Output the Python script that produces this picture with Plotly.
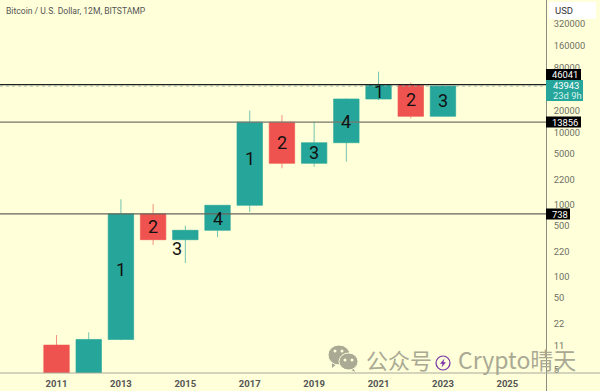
import math
import plotly.graph_objects as go

years = [2011, 2012, 2013, 2014, 2015, 2016, 2017, 2018, 2019, 2020, 2021, 2022, 2023]
opens = [11.1, 4.3, 13.3, 738, 323, 436, 970, 13856, 3715, 7180, 29040, 46041, 16700]
highs = [15.3, 16.7, 1175, 1010, 506, 980, 20000, 17400, 14060, 29400, 69600, 48950, 44500]
lows = [4.0, 4.0, 13.0, 273, 153, 352, 783, 3170, 3335, 3920, 28100, 15670, 16500]
closes = [4.3, 13.3, 738, 323, 436, 970, 13856, 3715, 7180, 29040, 46041, 16700, 43943]

label_years = [2013, 2014, 2014.75, 2016, 2017, 2018, 2019, 2020, 2021, 2022, 2023]
label_values = [126, 490, 245, 640, 4266, 7280, 5285, 14060, 36700, 29040, 27540]
label_texts = ["1", "2", "3", "4", "1", "2", "3", "4", "1", "2", "3"]

level_values = [46041, 13856, 738]
level_colors = ["#1f1f1f", "#77776c", "#66665c"]
current_price = 43943

y_ticks = [320000, 160000, 80000, 20000, 10000, 5000, 2200, 1000, 500, 220, 100, 50, 22, 11, 5]
x_ticks = [2011, 2013, 2015, 2017, 2019, 2021, 2023, 2025]

BG = "#FFFFD9"
TEAL = "#26A69A"
RED = "#EF5350"
XMIN, XMAX = 2009.245, 2026.2
W, H = 546, 373


def px(x):
    return x / W


def py(y):
    return 1 - y / H


fig = go.Figure()
fig.add_trace(go.Candlestick(
    x=years, open=opens, high=highs, low=lows, close=closes,
    increasing=dict(line=dict(color="rgba(38,166,154,0.65)", width=1), fillcolor=TEAL),
    decreasing=dict(line=dict(color="rgba(239,83,80,0.65)", width=1), fillcolor=RED),
    whiskerwidth=0, showlegend=False, hoverinfo="skip",
))
for value, color in zip(level_values, level_colors):
    fig.add_trace(go.Scatter(x=[XMIN, XMAX], y=[value, value], mode="lines",
                             line=dict(color=color, width=1.2), showlegend=False, hoverinfo="skip"))
fig.add_trace(go.Scatter(x=[XMIN, XMAX], y=[current_price, current_price], mode="lines",
                         line=dict(color="#8fa89a", width=0.8, dash="dot"), showlegend=False, hoverinfo="skip"))

ann = []
for x, v, t in zip(label_years, label_values, label_texts):
    ann.append(dict(x=x, y=math.log10(v), xref="x", yref="y", text=t, showarrow=False,
                    font=dict(family="Roboto", size=18, color="#111111"),
                    xanchor="center", yanchor="middle"))


def tag(text, x0, x1, y0, y1, fill, color="#ffffff", size=9.4):
    ann.append(dict(x=px(x0 + 5), y=py((y0 + y1) / 2), xref="paper", yref="paper", text=text,
                    showarrow=False, xanchor="left", yanchor="middle", align="left", borderpad=0,
                    font=dict(family="Roboto", size=size, color=color)))
    return dict(type="rect", xref="paper", yref="paper", x0=px(x0), x1=px(x1), y0=py(y1), y1=py(y0),
                fillcolor=fill, line=dict(width=0), layer="above")


shapes = [
    dict(type="line", xref="paper", yref="paper", x0=px(546.5), x1=px(546.5), y0=py(391), y1=py(0),
         line=dict(color="#8c8c80", width=1)),
    dict(type="line", xref="paper", yref="paper", x0=0, x1=px(600), y0=py(373), y1=py(373),
         line=dict(color="#a9a99b", width=1)),
]
shapes.append(tag("46041", 546, 581, 69, 80, "#000000"))
shapes.append(tag("13856", 546, 581, 116.5, 127.5, "#000000"))
shapes.append(tag("738", 546, 570, 208.5, 219.5, "#000000"))
shapes.append(dict(type="rect", xref="paper", yref="paper", x0=px(546), x1=px(583), y0=py(101), y1=py(80),
                   fillcolor=TEAL, line=dict(width=0), layer="above"))
ann.append(dict(x=px(551), y=py(86), xref="paper", yref="paper", text=str(current_price), showarrow=False,
                xanchor="left", yanchor="middle", font=dict(family="Roboto", size=9.4, color="#ffffff")))
ann.append(dict(x=px(551), y=py(96), xref="paper", yref="paper", text="23d 9h", showarrow=False,
                xanchor="left", yanchor="middle", font=dict(family="Roboto", size=9.4, color="#d5f2ee")))
shapes.append(dict(type="rect", xref="paper", yref="paper", x0=px(549), x1=px(596), y0=py(19), y1=py(2),
                   fillcolor="#ffffff", line=dict(width=0), layer="above"))
ann.append(dict(x=px(553), y=py(10.5), xref="paper", yref="paper", text="USD", showarrow=False,
                xanchor="left", yanchor="middle", font=dict(family="Roboto", size=9.5, color="#333333")))
ann.append(dict(x=px(4), y=py(11), xref="paper", yref="paper", text="Bitcoin / U.S. Dollar, 12M, BITSTAMP",
                showarrow=False, xanchor="left", yanchor="middle",
                font=dict(family="Roboto", size=8.6, color="#555555")))

# watermark
WM = "#A9A994"
PURPLE = "#7B2FA8"


def poly(points, fill):
    path = "M " + " L ".join(f"{px(x):.5f},{py(y):.5f}" for x, y in points) + " Z"
    return dict(type="path", xref="paper", yref="paper", path=path, fillcolor=fill, line=dict(width=0))


shapes.append(poly([(332, 361), (332, 368), (338, 363)], WM))
shapes.append(poly([(353, 367), (355, 372), (349, 369)], WM))
for x0, x1, y0, y1 in [(328, 350, 345, 365), (339, 358, 353, 370)]:
    shapes.append(dict(type="circle", xref="paper", yref="paper", x0=px(x0), x1=px(x1), y0=py(y1), y1=py(y0),
                       fillcolor=WM, line=dict(color=BG, width=1)))
for cx, cy in [(335, 351), (342, 351), (345, 360), (352, 360)]:
    shapes.append(dict(type="circle", xref="paper", yref="paper", x0=px(cx - 1.5), x1=px(cx + 1.5),
                       y0=py(cy + 1.5), y1=py(cy - 1.5), fillcolor=BG, line=dict(width=0)))
ann.append(dict(x=px(364), y=py(359), xref="paper", yref="paper", text="公众号", showarrow=False,
                xanchor="left", yanchor="middle", font=dict(family="Noto Sans CJK SC", size=22, color=WM)))
ann.append(dict(x=px(456), y=py(358.5), xref="paper", yref="paper", text="Crypto晴天", showarrow=False,
                xanchor="left", yanchor="middle", font=dict(family="Noto Sans CJK SC", size=23, color=WM)))
shapes.append(dict(type="circle", xref="paper", yref="paper", x0=px(436), x1=px(450), y0=py(370), y1=py(356),
                   fillcolor="rgba(0,0,0,0)", line=dict(color=PURPLE, width=1.2)))
shapes.append(poly([(444.5, 358.5), (440, 363.8), (442.6, 363.8), (441.5, 367.5), (446, 362.2), (443.4, 362.2)], PURPLE))

fig.update_layout(
    width=600, height=391, autosize=False,
    margin=dict(l=0, r=54, t=0, b=18),
    paper_bgcolor=BG, plot_bgcolor=BG,
    boxgap=0.21, boxgroupgap=0, showlegend=False,
    shapes=shapes, annotations=ann,
    xaxis=dict(range=[XMIN, XMAX], tickmode="array", tickvals=x_ticks, ticktext=[str(v) for v in x_ticks],
               showgrid=False, zeroline=False, showline=False, ticks="outside", ticklen=2,
               tickcolor="rgba(0,0,0,0)", rangeslider=dict(visible=False),
               tickfont=dict(family="Roboto", size=9.5, color="#555555", weight="bold")),
    yaxis=dict(type="log", side="right", range=[0.658, 5.838], tickmode="array", tickvals=y_ticks,
               ticktext=[str(v) for v in y_ticks], showgrid=False, zeroline=False, showline=False,
               ticks="outside", ticklen=5, tickcolor="rgba(0,0,0,0)",
               tickfont=dict(family="Roboto", size=9.3, color="#6f6f66")),
)
fig.write_html("out.html", config=dict(displayModeBar=False),
               post_script="document.body.style.margin='0';document.body.style.overflow='hidden';")
